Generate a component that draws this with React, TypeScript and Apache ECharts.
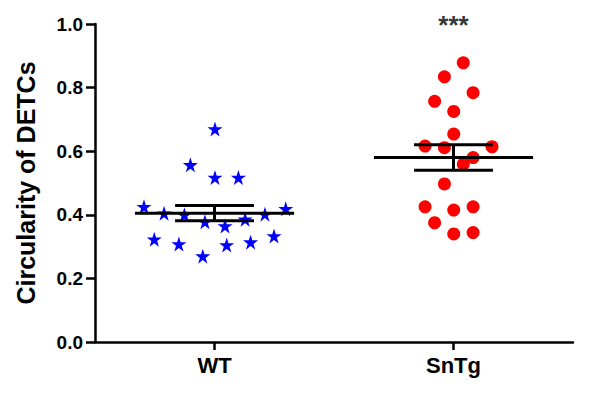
import React, { useEffect, useRef } from "react";
import * as echarts from "echarts";

const categories = ["WT", "SnTg"];
const yTicks = [0, 0.2, 0.4, 0.6, 0.8, 1.0];

// WT: [x position (jitter on 0..2 scale), value]
const wtX = [0.502, 0.399, 0.502, 0.6, 0.205, 0.798, 0.289, 0.374, 0.46, 0.544, 0.628, 0.711, 0.248, 0.351, 0.451, 0.551, 0.651, 0.749];
const wtY = [0.67, 0.557, 0.517, 0.517, 0.425, 0.419, 0.405, 0.4, 0.378, 0.365, 0.386, 0.402, 0.323, 0.308, 0.27, 0.305, 0.314, 0.333];

const snX = [1.541, 1.462, 1.582, 1.421, 1.501, 1.501, 1.381, 1.462, 1.661, 1.582, 1.541, 1.462, 1.381, 1.501, 1.582, 1.421, 1.501, 1.582];
const snY = [0.878, 0.834, 0.784, 0.757, 0.725, 0.654, 0.616, 0.611, 0.614, 0.58, 0.559, 0.497, 0.425, 0.415, 0.425, 0.375, 0.34, 0.344];

const groupCenter = [0.5, 1.5];
const groupMean = [0.405, 0.58];
const groupSem = [0.024, 0.04];
const significance = "***";
const sigY = 0.997;

const STAR = "path://M50,0 L61.2,34.5 L97.6,34.5 L68.2,55.9 L79.4,90.5 L50,69.1 L20.6,90.5 L31.8,55.9 L2.4,34.5 L38.8,34.5 Z";
const FONT = "'Liberation Sans', Arial, sans-serif";

export default function App() {
  const ref = useRef<HTMLDivElement>(null);
  useEffect(() => {
    if (!ref.current) return;
    const chart = echarts.init(ref.current, null, { renderer: "svg" });
    const axisLine = { show: true, lineStyle: { color: "#000", width: 2.5 } };
    chart.setOption({
      animation: false,
      backgroundColor: "#fff",
      grid: { left: 95, right: 20, top: 24, bottom: 51, containLabel: false },
      xAxis: [
        {
          type: "category",
          data: categories,
          boundaryGap: true,
          axisLine,
          axisTick: { show: true, alignWithLabel: true, length: 8, lineStyle: { color: "#000", width: 2.5 } },
          axisLabel: { color: "#000", fontSize: 22, fontWeight: "bold", fontFamily: FONT, margin: 12 },
          splitLine: { show: false },
        },
        {
          type: "value",
          min: 0,
          max: 2,
          show: false,
          splitLine: { show: false },
        },
      ],
      yAxis: {
        type: "value",
        min: 0,
        max: 1,
        interval: 0.2,
        axisLine,
        axisTick: { show: true, length: 9, lineStyle: { color: "#000", width: 2.5 } },
        axisLabel: {
          color: "#000",
          fontSize: 19,
          fontWeight: "bold",
          fontFamily: FONT,
          margin: 12,
          formatter: (v: number) => v.toFixed(1),
        },
        splitLine: { show: false },
        name: "Circularity of DETCs",
        nameLocation: "middle",
        nameGap: 57,
        nameTextStyle: { color: "#000", fontSize: 25, fontWeight: "bold", fontFamily: FONT },
      },
      series: [
        {
          type: "scatter",
          xAxisIndex: 1,
          symbol: STAR,
          symbolSize: 15,
          itemStyle: { color: "#0000FF", opacity: 1 },
          data: wtX.map((x, i) => [x, wtY[i]]),
          z: 2,
        },
        {
          type: "scatter",
          xAxisIndex: 1,
          symbol: "circle",
          symbolSize: 13,
          itemStyle: { color: "#FF0000", opacity: 1 },
          data: snX.map((x, i) => [x, snY[i]]),
          z: 2,
        },
        {
          type: "custom",
          xAxisIndex: 1,
          z: 3,
          data: groupCenter.map((c, i) => [c, groupMean[i], groupSem[i]]),
          renderItem: (params: any, api: any) => {
            const c = api.value(0);
            const m = api.value(1);
            const s = api.value(2);
            const ml = api.coord([c - 0.333, m]);
            const mr = api.coord([c + 0.333, m]);
            const hiL = api.coord([c - 0.165, m + s]);
            const hiR = api.coord([c + 0.165, m + s]);
            const loL = api.coord([c - 0.165, m - s]);
            const loR = api.coord([c + 0.165, m - s]);
            const vt = api.coord([c, m + s]);
            const vb = api.coord([c, m - s]);
            const st = { stroke: "#000", lineWidth: 3 };
            return {
              type: "group",
              children: [
                { type: "line", shape: { x1: ml[0], y1: ml[1], x2: mr[0], y2: mr[1] }, style: st },
                { type: "line", shape: { x1: hiL[0], y1: hiL[1], x2: hiR[0], y2: hiR[1] }, style: st },
                { type: "line", shape: { x1: loL[0], y1: loL[1], x2: loR[0], y2: loR[1] }, style: st },
                { type: "line", shape: { x1: vt[0], y1: vt[1], x2: vb[0], y2: vb[1] }, style: st },
              ],
            };
          },
        },
        {
          type: "scatter",
          xAxisIndex: 1,
          symbolSize: 0,
          silent: true,
          data: [[groupCenter[1], sigY]],
          label: {
            show: true,
            position: "inside",
            formatter: significance,
            color: "#000",
            fontSize: 26,
            fontWeight: "bold",
            fontFamily: FONT,
          },
        },
      ],
    });
    return () => chart.dispose();
  }, []);
  return <div ref={ref} style={{ width: 593, height: 393, marginLeft: -8, marginTop: -8 }} />;
}
